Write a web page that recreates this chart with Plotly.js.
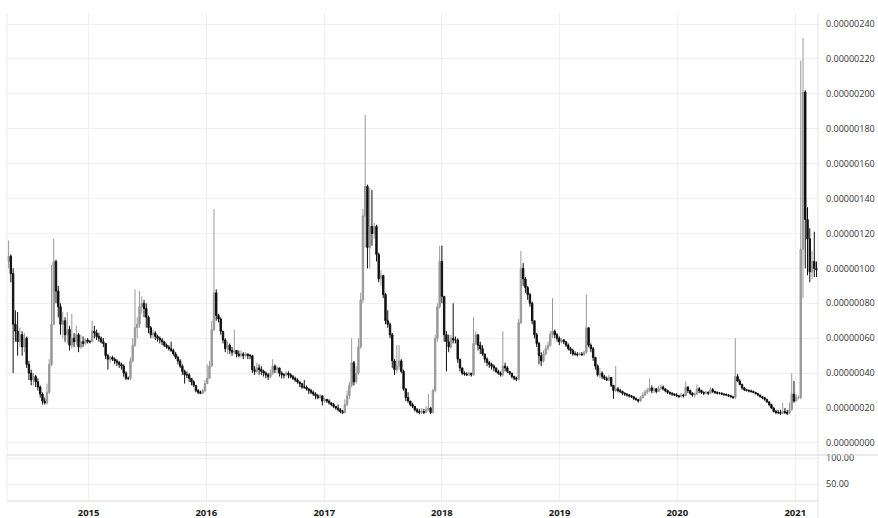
<!DOCTYPE html>
<html>
<head>
<meta charset="utf-8">
<script src="https://cdn.plot.ly/plotly-3.0.1.min.js"></script>
<style>html,body{margin:0;padding:0;background:#fff;}#chart{width:878px;height:518px;}</style>
</head>
<body>
<div id="chart"></div>
<script>
// Weekly candles, values in satoshi (1e-8 BTC)
const firstWeek = '2014-04-28';
const firstOpenSat = 104;
const closeSat = [
107,97,68,64,58,62,55,60,45,40,
36,38,35,32,28,24,23,29,45,68,
104,87,78,68,70,62,65,56,60,58,
62,55,58,57,59,58,58,64,63,61,
60,58,57,50,48,49,48,47,46,45,
44,40,37,37,47,56,66,68,78,80,
77,72,66,62,63,61,60,59,58,56,
55,54,53,51,49,47,44,41,39,39,
37,35,33,30,29,28.5,30,34,37,44,
65,86,73,71,64,59,54,56,53,52,
53,51,50,51,50,51,50,50,42,41,
43,42,41,40,39,38,40,44,42,43,
40,39,39,40,39,38,37,36,35,34,
32,32,31,30,29,28,27,26,27,24,
25,24,23,22,21,20,19,18,17.5,22,
27,33,46,35,40,55,82,130,147,112,
124,120,124,108,94,96,85,70,68,62,
47,42,44,47,41,31,26,24,22,21,
19,18,17.5,18,17.5,19,20,17.5,30,60,
78,104,84,62,58,55,60,59,59,48,
43,40,39.5,39,40,39,57,62,56,54,
51,48,46,45,44,43,41,40,39,44,
43,41,40,38,37,36.5,69,100,94,89,
85,80,70,62,57,50,47,51,54,56,
62,64,62,60,58,59,58,56,54,53,
51,51,50.5,51,50.5,52,66,56,54,49,
44,39,40,38,37,36,37.5,33,30,31,
30,29.5,28.5,28,27.5,27,26.5,25.5,24.8,24,
26,27.5,29,30,31.5,30,31,29.5,31,32,
31,30,29,28.5,28,27.5,27,26.5,27.5,27,
32,30,28.5,27.5,28,31,30,29,28.5,29,
28.5,30.5,29.5,29,28.5,28.5,28,27.8,27.5,27,
26.5,26,38,35.5,33.5,31.5,30.5,30,29.8,29.5,
29,28.3,27.5,26.5,26,25,23.5,22,20,18,
17.5,17.5,17,18,17.5,17,19,28,24,26,
26,111,201,128,117,98,104,100,99
];
const highSat = [
116,108,100,76,75,66,64,63,61,47,
42,40,39,37,33,29,26,34,48,102,
117,105,90,80,75,72,75,67,74,63,
67,63,62,61,60,60,59,70,67,65,
63,61,60,57,51,50,50,49,48,47,
46,45,41,38,49,60,88,72,87,84,
82,80,73,67,65,64,62,61,60,58,
57,56,58,54,52,50,48,45,42,41,
40,37,36,33,31,30,31,36,45,47,
70,134,88,74,72,64,60,58,57,55,
65,53,53,53,52,52,51,51,50,44,
46,45,44,42,41,40,42,48,45,44,
43,41,40,41,41,40,39,38,37,35,
34,36,33,31,31,30,29,28,28,27,
26,25,25,23,23,21,22,20,19,25,
30,35,60,47,44,60,86,134,188,148,
146,145,126,125,109,99,96,86,76,69,
63,48,56,56,48,42,31,29,24,23,
21,20,19.5,20,19.5,21,28,20.5,31,62,
80,113,113,84,64,62,62,80,61,60,
48,43,41,40.5,41,40,72,64,62,58,
56,51,49,47,46,45,43,42,41,64,
46,44,41,40,38.5,38,71,110,103,95,
90,86,81,70,63,58,52,53,56,58,
64,83,65,63,61,60,59.5,58,57,55,
54,52.5,52,52,52,53,85,66,57,55,
49,45,43,41,39,38,39,37,33,44,
32,31,30,29,28.5,28,27.5,26.5,26,25.2,
27,29,30.5,31.5,37,33,32,31.5,32.6,33.5,
33,31,30.5,29.5,29,28.5,28.5,27.5,28.8,28,
35.4,32.5,30.5,29,29,33.5,32,30.5,29.5,30,
29.5,32,31.5,30,29.5,29.2,29,28.5,28.3,28,
27.5,27,60,39.5,36.5,34,32,31,30.7,30.5,
30,29,28.5,27.5,26.8,26,25.2,24,22.5,20.5,
19,19,19,23,20,19,23,40,35.5,27.5,
27,219,232,202,135,123,110,121,104
];
const lowSat = [
100,92,40,58,50,55,50,52,43,36,
33,33,32,30,26,22,22,22,28,44,
68,80,72,62,60,58,57,53,54,55,
56,52,54,55,56,57,57,58,60,59,
58,57,55,48,42,46,47,45,44,43,
42,38,36,36,36,46,55,60,66,74,
72,66,63,60,60,59,58,57,56,55,
54,53,52,50,48,45,43,39,34,37,
35,33,32,29,28,28,28,29,35,37,
44,64,70,69,62,57,52,51,51,50,
51,49,49,49,48,49,48,48,40,39,
40,39,39,38,37,36,37,39,40,40,
38,37,37,38,37,37,36,35,34,32,
31,31,30,28,28,27,25,25,25,21.5,
23,23,22,21,20,19,18,17,16.5,17,
21,25,32,33,34,39,54,80,112,100,
100,113,117,104,92,90,83,68,66,60,
43,39,40,42,40,30,24,23,21,20,
18,17,16.5,16.5,16.5,17,18.5,16.5,17,29,
58,77,80,58,41,52,54,57,57,46,
41,39,38.5,38.5,38.5,38,38.5,56,53,51,
50,46,44,43,42,41,40,39,38,38,
41,40,39,37,36,35.5,36,68,90,86,
82,78,68,60,55,45,44,46,50,53,
55,60,60,58,56,57,56.6,55,53,51,
50,50,49.5,50,50,50,51,55,52,47,
42,38,37,36.5,36,35.5,35.5,32,25.3,29,
29,28.5,27.5,27,26.5,26,25.8,24.5,24.2,23.2,
23.5,25.5,27,28,29,28.5,28.5,28.5,29.7,30.5,
30,29,28,27.5,27,26.8,26.5,26,26.2,26,
27,28.5,27.5,26.5,26,27.5,28.5,28,27.5,28,
27.5,28,28.5,28,27.8,27.8,27.3,27,26.8,26.5,
26,25.2,25,35,33,30.5,29.7,29.5,29,28.8,
28.5,27.8,26.8,26,25,24.2,23,21,19.5,17.5,
16.5,16.5,16,16.5,16.5,16,16.5,18.5,23,24.5,
25,25,83,100,96,92,94,95,95
];
const yTickSat = [0,20,40,60,80,100,120,140,160,180,200,220,240];
const lowerTicks = [50,100];
const lowerTickText = ['50.00','100.00'];

const SAT = 1e-8;
const DAY = 86400000;
const t0 = Date.parse(firstWeek + 'T00:00:00Z');
const dates = closeSat.map((_, i) => new Date(t0 + i * 7 * DAY).toISOString().slice(0, 10));
// crypto trades continuously: each weekly open is the previous weekly close
const openSat = closeSat.map((c, i) => i === 0 ? firstOpenSat : closeSat[i - 1]);

const upCol = '#999999', dnCol = '#0f0f0f';
const candles = {
  type: 'candlestick',
  x: dates,
  open: openSat.map(v => v * SAT),
  high: highSat.map(v => v * SAT),
  low: lowSat.map(v => v * SAT),
  close: closeSat.map(v => v * SAT),
  xaxis: 'x', yaxis: 'y',
  whiskerwidth: 0,
  increasing: {line: {color: upCol, width: 1}, fillcolor: upCol},
  decreasing: {line: {color: dnCol, width: 1}, fillcolor: dnCol},
  hoverinfo: 'skip'
};
const lowerPane = {type: 'scatter', mode: 'lines', x: [], y: [], xaxis: 'x', yaxis: 'y2', hoverinfo: 'skip'};

const split = (501 - 455) / 488;
const gridC = '#f0f0f0';
const lblFont = {family: 'Open Sans, sans-serif', size: 9, color: '#333333'};
const layout = {
  width: 878, height: 518,
  margin: {l: 7, r: 60, t: 13, b: 17, pad: 0},
  paper_bgcolor: '#ffffff', plot_bgcolor: '#ffffff',
  showlegend: false,
  boxgap: 0.12,
  xaxis: {
    type: 'date', anchor: 'y2',
    range: ['2014-04-23', '2021-03-12 12:00'],
    tick0: '2015-01-01', dtick: 'M12', tickformat: '%Y',
    showgrid: true, gridcolor: gridC, gridwidth: 1,
    showline: false, zeroline: false, ticks: '',
    ticklabelstandoff: 4,
    tickfont: {family: 'Open Sans, sans-serif', size: 9.5, color: '#161616', weight: 700},
    rangeslider: {visible: false}, fixedrange: true
  },
  yaxis: {
    domain: [split, 1], anchor: 'x', side: 'right',
    range: [-6.9 * SAT, 246.3 * SAT],
    tickvals: yTickSat.map(v => v * SAT), tickformat: '.8f',
    showgrid: true, gridcolor: gridC, zeroline: false, showline: false,
    ticks: '', ticklabelstandoff: 7, tickfont: lblFont, fixedrange: true
  },
  yaxis2: {
    domain: [0, split], anchor: 'x', side: 'right',
    range: [18.3, 105.7],
    tickvals: lowerTicks, ticktext: lowerTickText,
    showgrid: true, gridcolor: gridC, zeroline: false, showline: false,
    ticks: '', ticklabelstandoff: 7, tickfont: lblFont, fixedrange: true
  },
  shapes: [
    {type: 'line', xref: 'paper', yref: 'paper', x0: 0, x1: 1.075, y0: split, y1: split, line: {color: '#d4d4d4', width: 1}},
    {type: 'line', xref: 'paper', yref: 'paper', x0: 0, x1: 1, y0: 0, y1: 0, line: {color: '#d9d9d9', width: 1}},
    {type: 'line', xref: 'paper', yref: 'paper', x0: 1, x1: 1, y0: -0.035, y1: 1, line: {color: '#e3e3e3', width: 1}},
    {type: 'line', xref: 'paper', yref: 'paper', x0: 0, x1: 0, y0: 0, y1: 1, line: {color: '#ececec', width: 1}}
  ]
};
Plotly.newPlot('chart', [candles, lowerPane], layout, {staticPlot: true, displayModeBar: false});
</script>
</body>
</html>
